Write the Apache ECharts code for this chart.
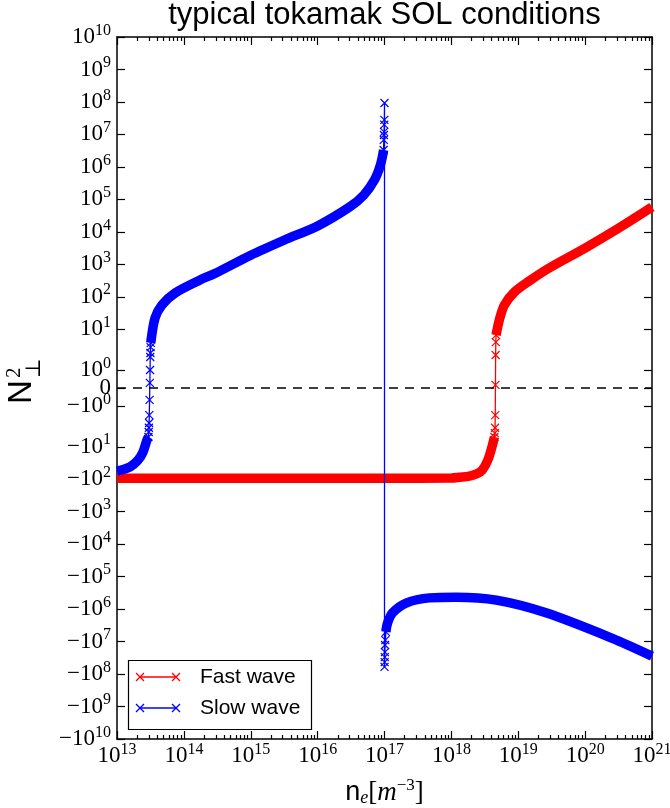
<!DOCTYPE html>
<html>
<head>
<meta charset="utf-8">
<script src="https://cdn.jsdelivr.net/npm/echarts@6/dist/echarts.min.js"></script>
<style>
  html, body { margin: 0; padding: 0; background: #fff; }
  #main { width: 670px; height: 808px; }
</style>
</head>
<body>
<div id="main"></div>
<script>
// n_e [m^-3] and N_perp^2
const fastLowNe = [1e13, 1e14, 1e15, 1e16, 1e17, 1e18, 1.32e18, 1.86e18, 2.4e18, 2.9e18, 3.5e18, 4.0e18, 4.4e18];
const fastLowN2 = [-93, -93, -93, -93, -93, -92, -87, -80, -68, -52, -26, -11, -5];
const fastSteepNe = [4.4e18, 4.46e18, 4.5e18, 4.53e18, 4.56e18, 4.59e18, 4.62e18, 4.66e18];
const fastSteepN2 = [-5, -3.8, -2.6, -1.5, 0.17, 1.83, 4.0, 6.6];
const fastHighNe = [4.66e18, 5.2e18, 6.2e18, 8.8e18, 1.46e19, 2.9e19, 1e20, 3.2e20, 1e21];
const fastHighN2 = [6.6, 19, 56, 140, 306, 769, 3170, 1.31e4, 5.8e4];

const slowLowNe = [1e13, 1.56e13, 2.06e13, 2.45e13, 2.8e13, 2.95e13];
const slowLowN2 = [-56, -42, -26, -14.5, -6.2, -5];
const slowSteepANe = [2.95e13, 2.98e13, 3.0e13, 3.02e13, 3.04e13, 3.07e13, 3.1e13, 3.12e13, 3.14e13, 3.16e13, 3.18e13, 3.2e13];
const slowSteepAN2 = [-5, -3.5, -2.6, -1.94, -1.5, -0.66, 0.28, 1.0, 1.72, 1.94, 2.8, 3.8];
const slowMidNe = [3.2e13, 3.7e13, 4.7e13, 7.4e13, 1.74e14, 2.9e14, 1e15, 3.2e15, 1e16, 3e16, 4.9e16, 7.1e16, 8.7e16, 9.7e16];
const slowMidN2 = [3.8, 22, 56, 131, 328, 520, 1900, 5600, 1.52e4, 5.8e4, 1.35e5, 4e5, 1.15e6, 3.3e6];
const slowSteepBNe = [9.7e16, 9.75e16, 9.8e16, 9.85e16, 9.9e16, 9.95e16, 1e17, 1e17, 1.005e17, 1.01e17, 1.015e17, 1.02e17, 1.03e17, 1.05e17];
const slowSteepBN2 = [3.3e6, 6.8e6, 9.6e6, 1.2e7, 2e7, 2.8e7, 9.3e7, -6e7, -4.3e7, -3e7, -2.1e7, -1.27e7, -9e6, -5e6];
const slowHighNe = [1.05e17, 1.11e17, 1.32e17, 2.1e17, 4.7e17, 1.17e18, 4.7e18, 2.6e19, 2.5e20, 1e21];
const slowHighN2 = [-5e6, -2.7e6, -1.3e6, -6.5e5, -4.5e5, -4.3e5, -5.3e5, -1.3e6, -7.8e6, -2.8e7];

const xTickExps = [13, 14, 15, 16, 17, 18, 19, 20, 21];
const yTickValues = [1e10, 1e9, 1e8, 1e7, 1e6, 1e5, 1e4, 1e3, 1e2, 1e1, 1, 0,
  -1, -1e1, -1e2, -1e3, -1e4, -1e5, -1e6, -1e7, -1e8, -1e9, -1e10];

// symlog transform (linthresh 2, linscale 1) like matplotlib
const LIN_THRESH = 2;
const LIN_SCALE = 1 / (1 - 1 / 10);
function symlog(v) {
  const a = Math.abs(v);
  if (a <= LIN_THRESH) return v / LIN_THRESH * LIN_SCALE;
  return Math.sign(v) * (LIN_SCALE + Math.log10(a / LIN_THRESH));
}
function pairs(ne, n2) {
  return ne.map((x, i) => [x, symlog(n2[i])]);
}

const serif = '"Liberation Serif", "DejaVu Serif", serif';
const sans = '"Liberation Sans", Arial, sans-serif';
const RED = '#ff0000';
const BLUE = '#0000ff';
const CROSS = 'path://M0,0L10,10M10,0L0,10';

// nudge the end ticks inside the extent so float rounding does not drop them
const xMajor = xTickExps.map((e, i) => {
  const v = Math.pow(10, e);
  if (i === 0) return v * (1 + 1e-9);
  if (i === xTickExps.length - 1) return v * (1 - 1e-9);
  return v;
});
const xMinor = [];
for (let e = 13; e < 21; e++) {
  for (let m = 2; m <= 9; m++) xMinor.push(m * Math.pow(10, e));
}
const yTickPos = yTickValues.map(symlog);
const yMax = symlog(1e10);

const tickRich = {
  b: { fontFamily: serif, fontSize: 23, lineHeight: 24, color: '#000', verticalAlign: 'middle' },
  s: { fontFamily: serif, fontSize: 16, lineHeight: 16, padding: [0, 0, 13, 0], color: '#000', verticalAlign: 'middle' }
};

function yLabel(v) {
  const i = yTickPos.findIndex(p => Math.abs(p - v) < 1e-6);
  if (i < 0) return '';
  const t = yTickValues[i];
  if (t === 0) return '{b|0}';
  const e = Math.round(Math.log10(Math.abs(t)));
  return '{b|' + (t < 0 ? '\u221210' : '10') + '}{s|' + e + '}';
}

function band(ne, n2, color) {
  return {
    type: 'line', data: pairs(ne, n2), symbol: 'none', smooth: 0.3,
    lineStyle: { color: color, width: 9.5 }, silent: true
  };
}
function steep(ne, n2, color) {
  return {
    type: 'line', data: pairs(ne, n2), symbol: CROSS, symbolSize: 8, showAllSymbol: true,
    lineStyle: { color: color, width: 1.3 },
    itemStyle: { color: color, borderColor: color, borderWidth: 1.2 },
    silent: true
  };
}

function xAxisCfg(pos, ticks, len, showLine, label) {
  return {
    type: 'log', logBase: 10, min: 1e13, max: 1e21, position: pos,
    axisLine: { show: showLine, onZero: false, lineStyle: { color: '#000', width: 1.5 } },
    axisTick: { show: true, inside: true, length: len, customValues: ticks, lineStyle: { color: '#000', width: 1.2 } },
    axisLabel: label ? {
      show: true, margin: 5, customValues: xMajor,
      formatter: v => '{b|10}{s|' + Math.round(Math.log10(v)) + '}',
      rich: tickRich
    } : { show: false },
    splitLine: { show: false }, minorTick: { show: false }
  };
}
function yAxisCfg(pos, label) {
  return {
    type: 'value', min: -yMax, max: yMax, position: pos,
    axisLine: { show: true, onZero: false, lineStyle: { color: '#000', width: 1.5 } },
    axisTick: { show: true, inside: true, length: 8, customValues: yTickPos, lineStyle: { color: '#000', width: 1.2 } },
    axisLabel: label ? { show: true, margin: 6, customValues: yTickPos, formatter: yLabel, rich: tickRich } : { show: false },
    splitLine: { show: false }
  };
}

function crossMark(cx, cy, color) {
  const h = 4;
  return [
    { type: 'line', shape: { x1: cx - h, y1: cy - h, x2: cx + h, y2: cy + h }, style: { stroke: color, lineWidth: 1.2 } },
    { type: 'line', shape: { x1: cx - h, y1: cy + h, x2: cx + h, y2: cy - h }, style: { stroke: color, lineWidth: 1.2 } }
  ];
}
function legendRow(y, color, label) {
  return [
    { type: 'line', shape: { x1: 140, y1: y, x2: 176, y2: y }, style: { stroke: color, lineWidth: 1.3 } },
    ...crossMark(140, y, color), ...crossMark(176, y, color),
    { type: 'text', x: 200, y: y, style: { text: label, font: '21px ' + sans, fill: '#000', textAlign: 'left', textVerticalAlign: 'middle', align: 'left', verticalAlign: 'middle' } }
  ];
}

const chart = echarts.init(document.getElementById('main'));
chart.setOption({
  animation: false,
  backgroundColor: '#fff',
  grid: { left: 117, right: 18, top: 37, bottom: 69, containLabel: false, outerBoundsMode: 'none' },
  xAxis: [
    Object.assign(xAxisCfg('bottom', xMajor, 8, true, true), {
      name: '{n|n}{e|e}{b|[}{m|m}{s|\u22123}{b|]}', nameLocation: 'middle', nameGap: 40,
      nameTextStyle: {
        rich: {
          n: { fontFamily: sans, fontSize: 27, lineHeight: 28, color: '#000', verticalAlign: 'middle' },
          e: { fontFamily: serif, fontStyle: 'italic', fontSize: 18, lineHeight: 18, padding: [11, 0, 0, 0], color: '#000', verticalAlign: 'middle' },
          b: { fontFamily: serif, fontSize: 27, lineHeight: 28, color: '#000', verticalAlign: 'middle' },
          m: { fontFamily: serif, fontStyle: 'italic', fontSize: 27, lineHeight: 28, color: '#000', verticalAlign: 'middle' },
          s: { fontFamily: serif, fontSize: 17, lineHeight: 17, padding: [0, 0, 14, 0], color: '#000', verticalAlign: 'middle' }
        }
      }
    }),
    xAxisCfg('bottom', xMinor, 4, false, false),
    xAxisCfg('top', xMajor, 8, true, false),
    xAxisCfg('top', xMinor, 4, false, false)
  ],
  yAxis: [yAxisCfg('left', true), yAxisCfg('right', false)],
  series: [
    {
      type: 'line', data: [], silent: true,
      markLine: {
        silent: true, symbol: ['none', 'none'], label: { show: false },
        lineStyle: { color: '#000', type: [9, 7], width: 1.5 },
        data: [{ yAxis: 0 }]
      }
    },
    band(fastLowNe, fastLowN2, RED),
    steep(fastSteepNe, fastSteepN2, RED),
    band(fastHighNe, fastHighN2, RED),
    band(slowLowNe, slowLowN2, BLUE),
    steep(slowSteepANe, slowSteepAN2, BLUE),
    band(slowMidNe, slowMidN2, BLUE),
    steep(slowSteepBNe, slowSteepBN2, BLUE),
    band(slowHighNe, slowHighN2, BLUE)
  ],
  graphic: [
    { type: 'text', x: 384.5, y: 15, z: 100,
      style: { text: 'typical tokamak SOL conditions', font: '31px ' + sans, fill: '#000', textAlign: 'center', textVerticalAlign: 'middle', align: 'center', verticalAlign: 'middle' } },
    { type: 'group', x: 22, y: 404, rotation: Math.PI / 2, z: 100, children: [
      { type: 'text', x: 0, y: 0, style: { text: 'N', font: '33px ' + sans, fill: '#000', textAlign: 'left', textVerticalAlign: 'middle', align: 'left', verticalAlign: 'middle' } },
      { type: 'text', x: 26, y: -8, style: { text: '2', font: '21px ' + serif, fill: '#000', textAlign: 'left', textVerticalAlign: 'middle', align: 'left', verticalAlign: 'middle' } },
      { type: 'text', x: 26, y: 12, style: { text: '\u22a5', font: '21px ' + serif, fill: '#000', textAlign: 'left', textVerticalAlign: 'middle', align: 'left', verticalAlign: 'middle' } }
    ] },
    { type: 'group', z: 100, children: [
      { type: 'rect', shape: { x: 128.5, y: 660.5, width: 183, height: 69 }, style: { fill: '#fff', stroke: '#000', lineWidth: 1.2 } },
      ...legendRow(677, RED, 'Fast wave'),
      ...legendRow(708, BLUE, 'Slow wave')
    ] }
  ]
});
</script>
</body>
</html>
